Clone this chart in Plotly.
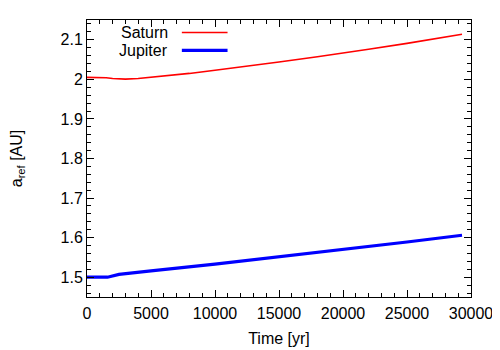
import plotly.graph_objects as go

# orbital reference radius vs time
saturn_t = [0, 500, 1000, 1500, 2000, 2500, 3000, 4000, 5000, 6000, 8000,
            10000, 12000, 15000, 18000, 20000, 22000, 25000, 27000, 29300]
saturn_a = [2.005, 2.005, 2.005, 2.004, 2.002, 2.001, 2.0005, 2.002, 2.005, 2.008, 2.015,
            2.023, 2.031, 2.044, 2.057, 2.066, 2.076, 2.091, 2.101, 2.114]

jupiter_t = [0, 1000, 1600, 2500, 3500, 5000, 10000, 15000, 20000, 25000, 29300]
jupiter_a = [1.5, 1.5, 1.5, 1.507, 1.511, 1.516, 1.533, 1.551, 1.570, 1.589, 1.606]

font = dict(family="Liberation Sans, Arial, sans-serif", size=16, color="black")

fig = go.Figure()
fig.add_trace(go.Scatter(x=saturn_t, y=saturn_a, mode="lines", name="Saturn",
                         line=dict(color="#ff0000", width=1.6)))
fig.add_trace(go.Scatter(x=jupiter_t, y=jupiter_a, mode="lines", name="Jupiter",
                         line=dict(color="#0000ff", width=3.2)))

axis_common = dict(
    showline=True, linecolor="black", linewidth=1, mirror="allticks",
    ticks="inside", ticklen=7, tickcolor="black", showgrid=False, zeroline=False,
    tickfont=font, automargin=False,
)

fig.update_xaxes(range=[0, 30000], dtick=5000, tickformat="d", ticklabelstandoff=2,
                 minor=dict(ticks="inside", dtick=1000, ticklen=4, tickcolor="black"),
                 title=dict(text="Time [yr]", font=font, standoff=11), **axis_common)
fig.update_yaxes(range=[1.45, 2.15], dtick=0.1,
                 minor=dict(ticks="inside", dtick=0.02, ticklen=4, tickcolor="black"),
                 title=dict(text="a<sub>ref</sub> [AU]", font=font, standoff=38), **axis_common)

# gnuplot-style key: label left, sample right
key = [("Saturn", "#ff0000", 1.6, 0.955), ("Jupiter", "#0000ff", 3.2, 0.89)]
for label, color, w, yk in key:
    fig.add_annotation(text=label, xref="paper", yref="paper", x=0.215, y=yk,
                       xanchor="right", yanchor="middle", showarrow=False, font=font)
    fig.add_shape(type="line", xref="paper", yref="paper", x0=0.247, x1=0.366,
                  y0=yk, y1=yk, line=dict(color=color, width=w))

# page body adds an 8px offset, so margins are trimmed to land the frame in place
fig.update_layout(
    width=500, height=350,
    margin=dict(l=79, r=37, t=12, b=61),
    paper_bgcolor="white", plot_bgcolor="white",
    showlegend=False, font=font,
)

fig.write_html("out.html")
